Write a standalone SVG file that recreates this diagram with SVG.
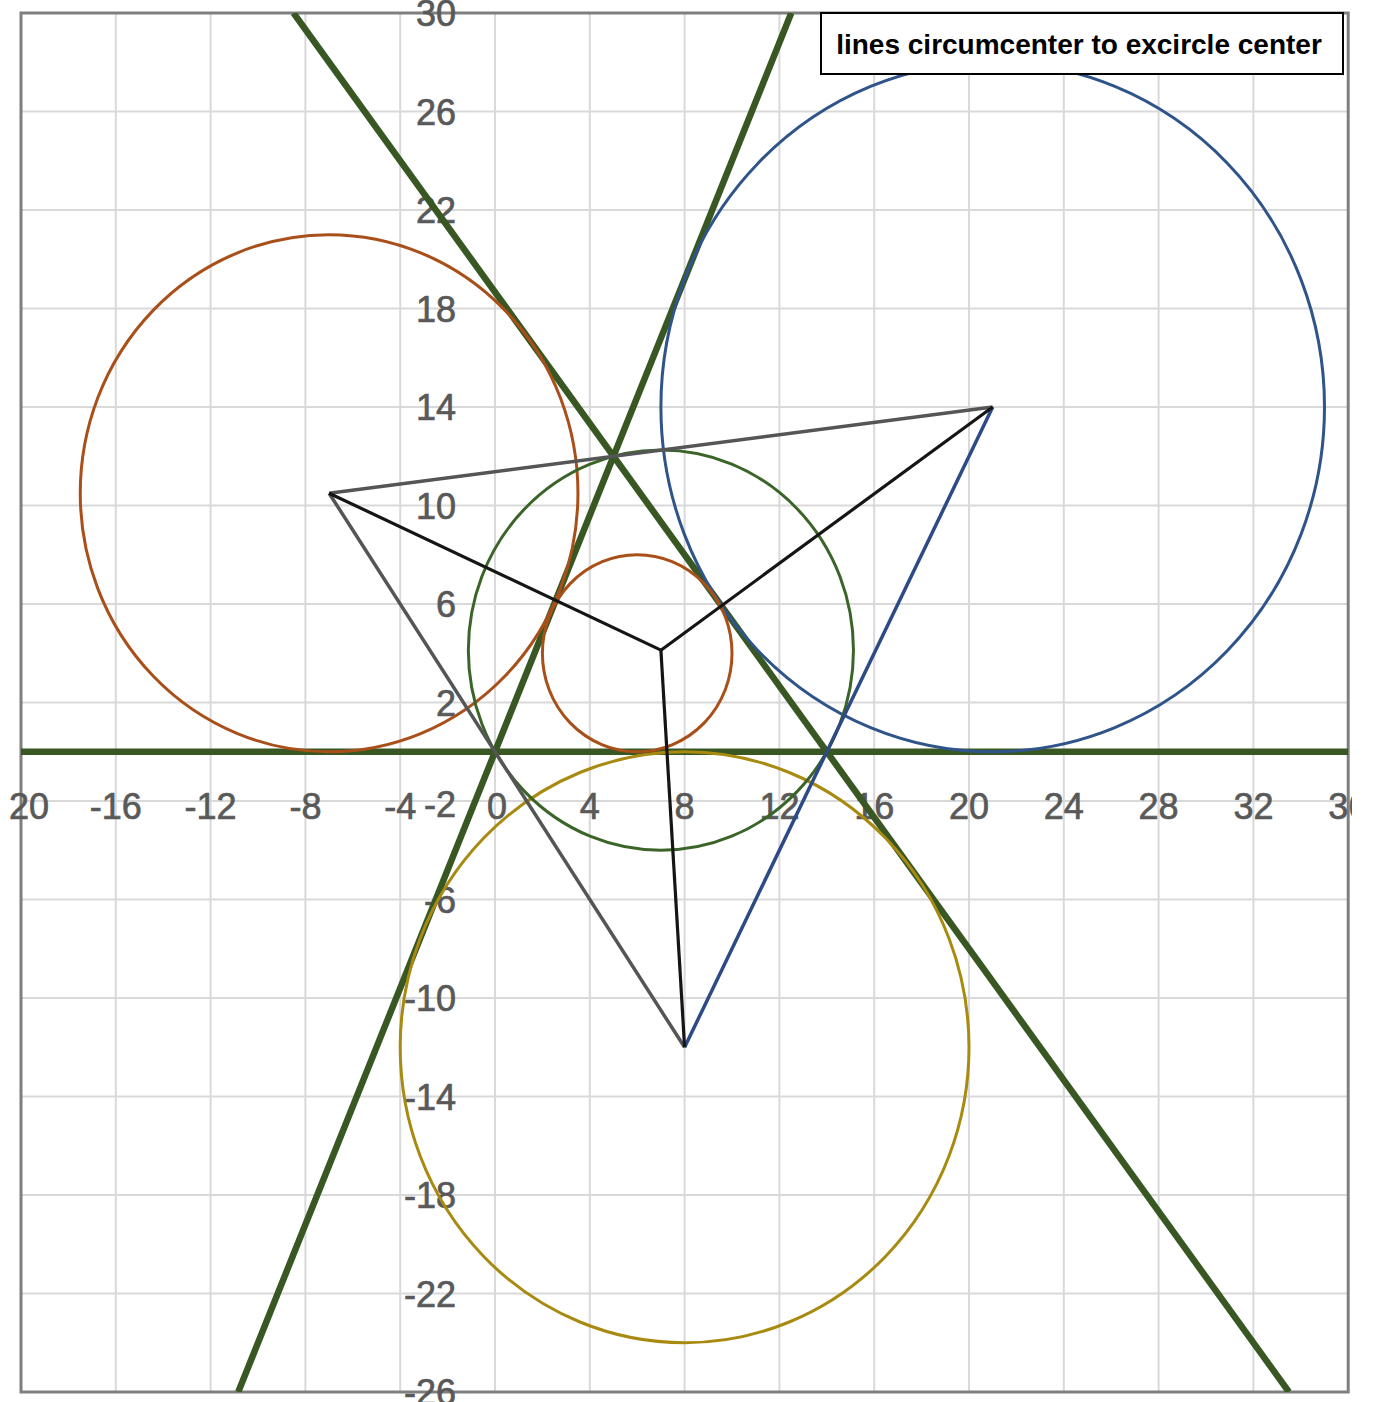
<svg xmlns="http://www.w3.org/2000/svg" width="1374" height="1402" viewBox="0 0 1374 1402">
  <style>
    .grid { stroke: #d9d9d9; stroke-width: 2; fill: none; }
    .frame { stroke: #7f7f7f; stroke-width: 3; fill: none; }
    .lbl { font-family: "Liberation Sans", Arial, sans-serif; font-size: 36px; fill: #595959; stroke: #595959; stroke-width: 0.7; }
    .ylbl { text-anchor: end; }
    .xlbl { text-anchor: middle; }
    .side { stroke: #385723; stroke-width: 6.5; fill: none; stroke-linecap: butt; }
    .circ { fill: none; stroke-width: 3; }
    .tri { stroke: #555555; stroke-width: 3.5; fill: none; }
    .oline { stroke: #151515; stroke-width: 3.2; fill: none; }
    .title { font-family: "Liberation Sans", Arial, sans-serif; font-size: 28px; font-weight: bold; fill: #000; text-anchor: middle; }
  </style>
  <defs>
    <clipPath id="plotclip"><rect x="0" y="0" width="1352" height="1402"/></clipPath>
    <clipPath id="area"><rect x="21" y="13" width="1327.2" height="1379"/></clipPath>
  </defs>
  <rect x="0" y="0" width="1374" height="1402" fill="#ffffff"/>

  <g id="grid">
    <path class="grid" d="M115.8 13V1392M210.6 13V1392M305.4 13V1392M400.2 13V1392M495 13V1392M589.8 13V1392M684.6 13V1392M779.4 13V1392M874.2 13V1392M969 13V1392M1063.8 13V1392M1158.6 13V1392M1253.4 13V1392"/>
    <path class="grid" d="M21 111.5H1348.2M21 210H1348.2M21 308.5H1348.2M21 407H1348.2M21 505.5H1348.2M21 604H1348.2M21 702.5H1348.2M21 801H1348.2M21 899.5H1348.2M21 998H1348.2M21 1096.5H1348.2M21 1195H1348.2M21 1293.5H1348.2"/>
    <rect class="frame" x="21" y="13" width="1327.2" height="1379"/>
  </g>

  <g id="axis-labels" clip-path="url(#plotclip)">
    <text class="lbl ylbl" x="456" y="26">30</text>
    <text class="lbl ylbl" x="456" y="124.5">26</text>
    <text class="lbl ylbl" x="456" y="223">22</text>
    <text class="lbl ylbl" x="456" y="321.5">18</text>
    <text class="lbl ylbl" x="456" y="420">14</text>
    <text class="lbl ylbl" x="456" y="518.5">10</text>
    <text class="lbl ylbl" x="456" y="617">6</text>
    <text class="lbl ylbl" x="456" y="715.5">2</text>
    <text class="lbl ylbl" x="456" y="817">-2</text>
    <text class="lbl ylbl" x="456" y="912.5">-6</text>
    <text class="lbl ylbl" x="456" y="1011">-10</text>
    <text class="lbl ylbl" x="456" y="1109.5">-14</text>
    <text class="lbl ylbl" x="456" y="1208">-18</text>
    <text class="lbl ylbl" x="456" y="1306.5">-22</text>
    <text class="lbl ylbl" x="456" y="1405">-26</text>

    <text class="lbl" x="9" y="819">20</text>
    <text class="lbl xlbl" x="115.8" y="819">-16</text>
    <text class="lbl xlbl" x="210.6" y="819">-12</text>
    <text class="lbl xlbl" x="305.4" y="819">-8</text>
    <text class="lbl xlbl" x="400.2" y="819">-4</text>
    <text class="lbl xlbl" x="497" y="819">0</text>
    <text class="lbl xlbl" x="589.8" y="819">4</text>
    <text class="lbl xlbl" x="684.6" y="819">8</text>
    <text class="lbl xlbl" x="779.4" y="819">12</text>
    <text class="lbl xlbl" x="874.2" y="819">16</text>
    <text class="lbl xlbl" x="969" y="819">20</text>
    <text class="lbl xlbl" x="1063.8" y="819">24</text>
    <text class="lbl xlbl" x="1158.6" y="819">28</text>
    <text class="lbl xlbl" x="1253.4" y="819">32</text>
    <text class="lbl xlbl" x="1348.2" y="819">36</text>
  </g>

  <g id="connectors" clip-path="url(#area)">
    <g id="triangle-sides">
      <line class="side" x1="21" y1="751.75" x2="1348.2" y2="751.75"/>
      <line class="side" x1="238.25" y1="1392" x2="791.25" y2="13"/>
      <line class="side" x1="293.55" y1="13" x2="1288.95" y2="1392"/>
    </g>
  </g>

  <g id="circles">
    <ellipse id="excircle-a" class="circ" stroke="#a84f1a" cx="329.1" cy="493.19" rx="248.85" ry="258.56"/>
    <ellipse id="excircle-b" class="circ" stroke="#2f548a" cx="992.7" cy="407" rx="331.8" ry="344.75"/>
    <ellipse id="excircle-c" class="circ" stroke="#a88a10" cx="684.6" cy="1047.25" rx="284.4" ry="295.5"/>
    <ellipse id="incircle" class="circ" stroke="#a84f1a" cx="637.2" cy="653.25" rx="94.8" ry="98.5"/>
    <ellipse id="circumcircle" class="circ" stroke="#3b6528" cx="660.9" cy="650.17" rx="192.56" ry="200.08"/>
  </g>

  <g id="excentral-triangle">
    <line class="tri" x1="329.1" y1="493.19" x2="992.7" y2="407"/>
    <line class="tri" x1="329.1" y1="493.19" x2="684.6" y2="1047.25"/>
    <line class="tri" style="stroke:#2c4a85" x1="992.7" y1="407" x2="684.6" y2="1047.25"/>
  </g>

  <g id="circumcenter-lines">
    <line class="oline" x1="660.9" y1="650.17" x2="329.1" y2="493.19"/>
    <line class="oline" x1="660.9" y1="650.17" x2="992.7" y2="407"/>
    <line class="oline" x1="660.9" y1="650.17" x2="684.6" y2="1047.25"/>
  </g>

  <g id="title-box">
    <rect x="821" y="13" width="522" height="61" fill="#ffffff" stroke="#000000" stroke-width="2"/>
    <text class="title" x="1079" y="54">lines circumcenter to excircle center</text>
  </g>
</svg>
